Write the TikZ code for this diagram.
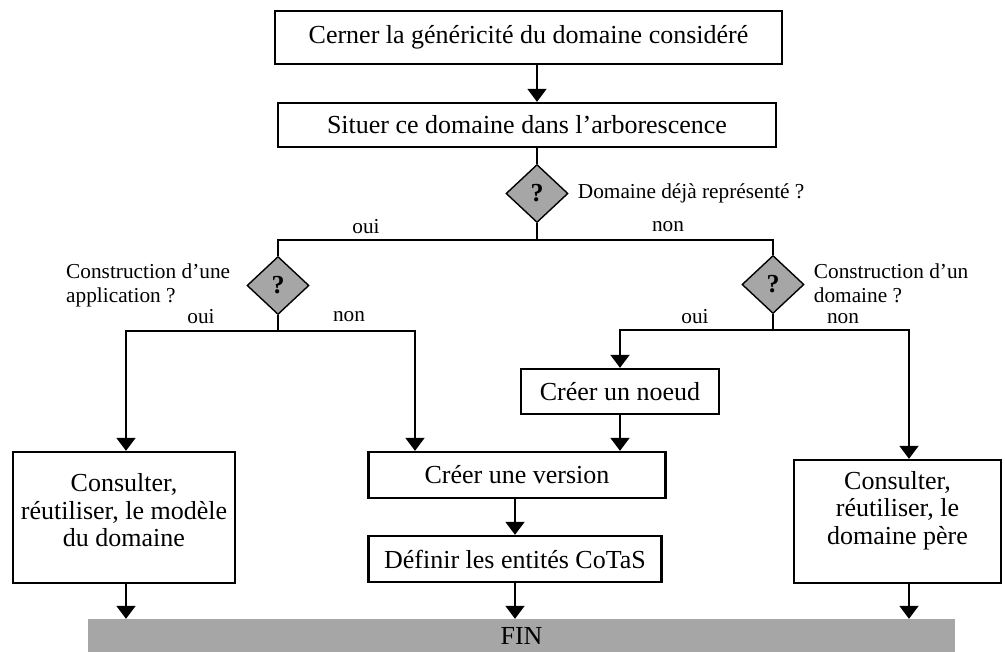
\documentclass[tikz,border=0pt]{standalone}
\usepackage{fontspec}
\setmainfont{Liberation Serif}
\usetikzlibrary{positioning,arrows.meta,shapes.geometric}
\definecolor{gris}{HTML}{A6A6A6}
\newcommand{\grand}{\fontsize{26}{27.5}\selectfont}
\newcommand{\petit}{\fontsize{21.3}{24.5}\selectfont}

\begin{document}
\begin{tikzpicture}[
  x=1pt,y=-1pt,
  >={Triangle[width=19pt,length=13pt]},
  every node/.style={font=\grand},
  etape/.style={draw,line width=2.4pt,align=center,inner sep=2pt},
  question/.style={diamond,draw,line width=1.4pt,fill=gris,inner sep=0pt,
    minimum width=62pt,minimum height=58pt,font=\grand\bfseries},
  etiquette/.style={font=\petit,inner sep=1pt},
  lien/.style={line width=2pt},
  fleche/.style={lien,->}
]
\useasboundingbox (0,0) rectangle (1005,652);

% étapes du haut
\node[etape,minimum width=507pt,minimum height=53pt] (cerner) at (528.5,37.5)
  {Cerner la généricité du domaine considéré};
\node[etape,minimum width=498pt,minimum height=44pt] (situer) at (527,125)
  {Situer ce domaine dans l’arborescence};

% premier test
\node[question] (q1) at (537,193.5) {?};
\node[etiquette,right=8pt of q1] (l1) {Domaine déjà représenté ?};
\coordinate (b1) at (537,240);

\draw[fleche] (cerner.south -| q1) -- (situer.north -| q1);
\draw[lien] (situer.south -| q1) -- (q1.north);
\draw[lien] (q1.south) -- (b1);

% deux tests suivants
\node[question] (q2) at (278,285.5) {?};
\node[question] (q3) at (773,284.5) {?};
\node[etiquette,left=15pt of q2,align=left] (l2) {Construction d’une\\application ?};
\node[etiquette,right=8pt of q3,align=left,yshift=1pt] (l3) {Construction d’un\\domaine ?};
\draw[lien] (q2.north) |- (b1) -| (q3.north);
\node[etiquette] (oui1) at (366,227) {oui};
\node[etiquette] (non1) at (668,227) {non};

% étapes finales
\node[etape,minimum width=222pt,minimum height=131pt] (modele) at (124,517.5)
  {Consulter,\\réutiliser, le modèle\\du domaine\\[-13pt]\mbox{}};
\node[etape,minimum width=198pt,minimum height=45pt] (noeud) at (620,391.5)
  {Créer un noeud};
\node[etape,minimum width=297pt,minimum height=46pt] (version) at (517,475)
  {Créer une version};
\node[etape,minimum width=293pt,minimum height=46pt] (cotas) at (515,559)
  {Définir les entités CoTaS};
\node[etape,minimum width=207pt,minimum height=123pt] (pere) at (897.5,521.5)
  {Consulter,\\réutiliser, le\\domaine père\\\mbox{}};
\node[fill=gris,inner sep=0pt,minimum width=867pt,minimum height=33pt] (fin)
  at (521.5,635.5) {FIN};

% branches à gauche
\coordinate (b2g) at (126,331);
\coordinate (b2d) at (415,331);
\draw[lien] (q2.south) -- (q2 |- b2g);
\draw[fleche] (q2 |- b2g) -- (b2g) -- (b2g |- modele.north);
\draw[fleche] (q2 |- b2g) -- (b2d) -- (b2d |- version.north);
\node[etiquette] (oui2) at (201,317) {oui};
\node[etiquette] (non2) at (349,317) {non};

% branches à droite
\coordinate (b3g) at (620,330);
\coordinate (b3d) at (909,330);
\draw[lien] (q3.south) -- (q3 |- b3g);
\draw[fleche] (q3 |- b3g) -- (b3g) -- (noeud.north);
\draw[fleche] (q3 |- b3g) -- (b3d) -- (b3d |- pere.north);
\node[etiquette] (oui3) at (695,317) {oui};
\node[etiquette] (non3) at (843,319) {non};

\draw[fleche] (noeud.south) -- (noeud.south |- version.north);
\draw[fleche] (version.south -| cotas) -- (cotas.north);

% vers FIN
\draw[fleche] (b2g |- modele.south) -- (b2g |- fin.north);
\draw[fleche] (cotas.south) -- (cotas.south |- fin.north);
\draw[fleche] (b3d |- pere.south) -- (b3d |- fin.north);
\end{tikzpicture}
\end{document}
